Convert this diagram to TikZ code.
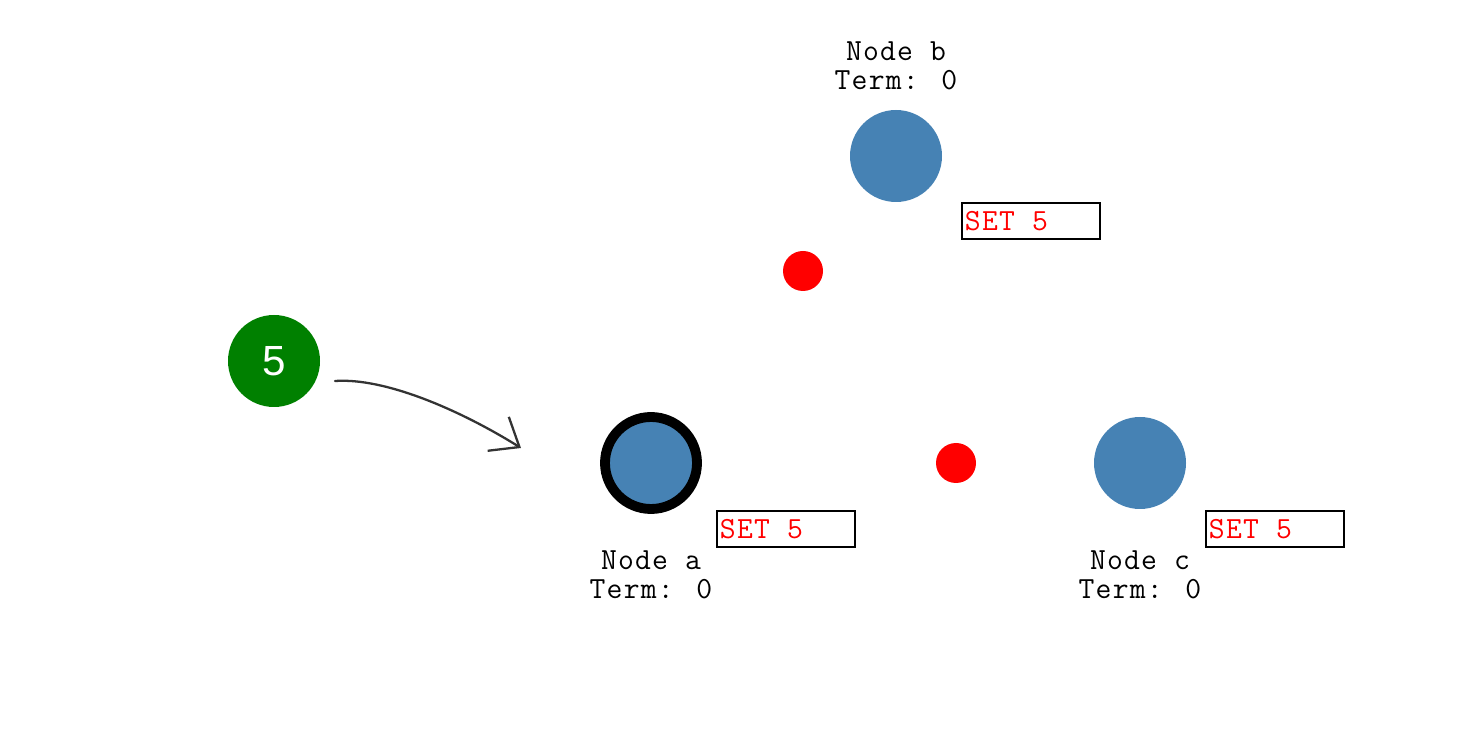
\documentclass[tikz,border=0pt]{standalone}
\usepackage{fontspec}
\newfontfamily\labelsans{Liberation Sans}
\newfontfamily\typewriter{Latin Modern Mono}[LetterSpace=4]
\usepackage{tikz}
\usetikzlibrary{arrows.meta}
\definecolor{steelblue}{RGB}{70,130,180}
\definecolor{webgreen}{RGB}{0,128,0}
\definecolor{arrowgray}{RGB}{51,51,51}

\tikzset{
	peer/.style={circle,fill=steelblue,minimum size=1.84cm,inner sep=0pt},
	leader/.style={circle,fill=steelblue,draw=black,line width=5.6pt,minimum size=1.84cm,inner sep=0pt},
	msg/.style={circle,fill=red,minimum size=0.8cm,inner sep=0pt},
	client/.style={circle,fill=webgreen,minimum size=1.84cm,inner sep=0pt,text=white,font=\labelsans\fontsize{24}{24}\selectfont},
	logbox/.style={draw=black,line width=1.1pt,anchor=north west,minimum width=2.76cm,minimum height=0.72cm,inner xsep=0.06cm,inner ysep=0pt,text=red,font=\typewriter\fontsize{17.5}{16.8}\selectfont},
	info/.style={align=center,inner sep=0pt,font=\typewriter\fontsize{17.5}{16.8}\selectfont}
}
\newcommand{\logtext}[1]{\makebox[2.64cm][l]{#1}}

\begin{document}
\begin{tikzpicture}[>=latex]
			%\draw [help lines] (0,0) grid (29,-15);
			\useasboundingbox (0,0) rectangle (29.44,-15.08);
			
			\node [client] (cl) at (5.48,-7.22) {5};
			
			\node [leader] (a) at (13.02,-9.26) {};
			\node [peer] (b) at (17.92,-3.12) {};
			\node [peer] (c) at (22.80,-9.26) {};
			
			\node [msg] (ab) at (16.06,-5.42) {};
			\node [msg] (ac) at (19.12,-9.26) {};
			
			\node [logbox] (loga) at (14.32,-10.20) {\logtext{SET 5}};
			\node [logbox] (logb) at (19.22,-4.04) {\logtext{SET 5}};
			\node [logbox] (logc) at (24.10,-10.20) {\logtext{SET 5}};
			
			\node [info] (infoa) at (13.02,-11.50) {Node a\\Term: 0};
			\node [info] (infob) at (17.92,-1.32) {Node b\\Term: 0};
			\node [info] (infoc) at (22.80,-11.50) {Node c\\Term: 0};
			
			\coordinate (start) at (6.70,-7.62);
			\coordinate (tip) at (10.42,-8.96);
			\draw [arrowgray,line width=1.3pt,line cap=round,-{Straight Barb[length=0.5cm,width=0.8cm]}] (start) .. controls (7.7,-7.55) and (9.2,-8.2) .. (tip);
	\end{tikzpicture}
\end{document}
